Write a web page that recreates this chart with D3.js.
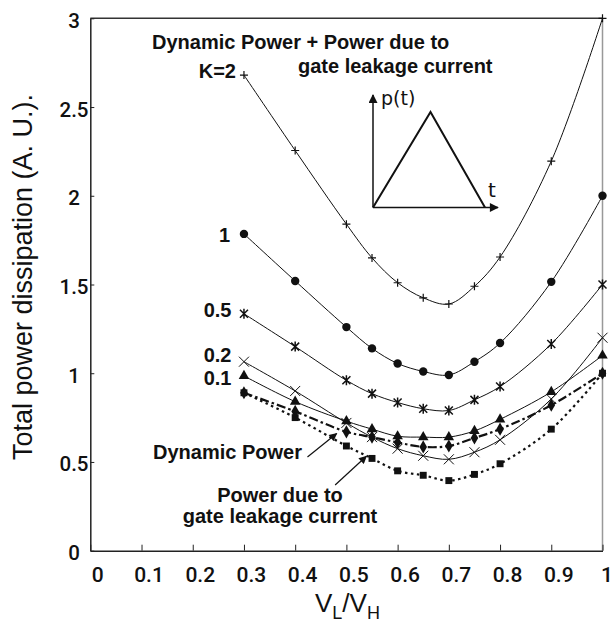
<!DOCTYPE html>
<html>
<head>
<meta charset="utf-8">
<script src="https://cdn.jsdelivr.net/npm/d3@7"></script>
<style>
  html, body { margin: 0; padding: 0; background: #fff; }
  svg { display: block; }
</style>
</head>
<body>
<svg id="chart" width="614" height="626"></svg>
<script>
// ---- data ----
const xValues = [0.3, 0.4, 0.5, 0.55, 0.6, 0.65, 0.7, 0.75, 0.8, 0.9, 1.0];
const k2      = [2.68, 2.255, 1.84, 1.65, 1.51, 1.425, 1.39, 1.49, 1.655, 2.195, 3.0];
const k1      = [1.785, 1.52, 1.26, 1.14, 1.055, 1.01, 0.99, 1.065, 1.17, 1.515, 2.0];
const k05     = [1.335, 1.15, 0.96, 0.885, 0.835, 0.80, 0.79, 0.85, 0.925, 1.165, 1.5];
const k02     = [1.065, 0.90, 0.72, 0.64, 0.575, 0.535, 0.515, 0.555, 0.625, 0.855, 1.2];
const k01     = [0.985, 0.84, 0.73, 0.685, 0.645, 0.64, 0.64, 0.675, 0.74, 0.895, 1.1];
const dynamicPower = [0.89, 0.785, 0.67, 0.64, 0.61, 0.585, 0.59, 0.635, 0.685, 0.82, 1.0];
const leakagePower = [0.89, 0.75, 0.59, 0.52, 0.45, 0.425, 0.395, 0.43, 0.49, 0.685, 1.0];

const xTicks = [0, 0.1, 0.2, 0.3, 0.4, 0.5, 0.6, 0.7, 0.8, 0.9, 1];
const xTickLabels = ["0", "0.1", "0.2", "0.3", "0.4", "0.5", "0.6", "0.7", "0.8", "0.9", "1"];
const yTicks = [0, 0.5, 1, 1.5, 2, 2.5, 3];
const yTickLabels = ["0", "0.5", "1", "1.5", "2", "2.5", "3"];

const kLabels = ["K=2", "1", "0.5", "0.2", "0.1"];

// ---- layout ----
const svg = d3.select("#chart");
const pLeft = 90.3, pRight = 602.5, pTop = 18.3, pBottom = 550.7;
const x = d3.scaleLinear().domain([0, 1]).range([pLeft, pRight]);
const y = d3.scaleLinear().domain([0, 3]).range([pBottom, pTop]);

const tickFont = "Roboto, 'DejaVu Sans Condensed', sans-serif";
const boldFont = "'Liberation Sans', Arial, sans-serif";

// frame: top dark, right grey
svg.append("line").attr("x1", pLeft).attr("x2", pRight).attr("y1", pTop).attr("y2", pTop)
  .attr("stroke", "#333").attr("stroke-width", 1.5);
svg.append("line").attr("x1", pRight).attr("x2", pRight).attr("y1", pTop).attr("y2", pBottom)
  .attr("stroke", "#999").attr("stroke-width", 1.5);

// axes
const xAxis = d3.axisBottom(x).tickValues(xTicks).tickSizeInner(-6).tickSizeOuter(0).tickFormat("");
const gx = svg.append("g").attr("transform", `translate(0,${pBottom})`).call(xAxis);
gx.select(".domain").attr("stroke", "#222").attr("stroke-width", 1.5);
gx.selectAll(".tick line").attr("stroke", "#222");
const yAxis = d3.axisLeft(y).tickValues(yTicks).tickSizeInner(-4).tickSizeOuter(0).tickFormat("");
const gy = svg.append("g").attr("transform", `translate(${pLeft},0)`).call(yAxis);
gy.select(".domain").attr("stroke", "#222").attr("stroke-width", 1.5);
gy.selectAll(".tick line").attr("stroke", "#222");

// tick labels
svg.append("g").selectAll("text").data(xTicks).join("text")
  .attr("x", d => Math.min(x(d) + 7.5, 607)).attr("y", 582)
  .attr("text-anchor", "middle")
  .attr("font-family", tickFont).attr("font-weight", 500).attr("font-size", 21).attr("fill", "#111")
  .text((d, i) => xTickLabels[i]);
svg.append("g").selectAll("text").data(yTicks).join("text")
  .attr("x", 74).attr("y", d => y(d) + 9.5)
  .attr("text-anchor", "middle")
  .attr("font-family", tickFont).attr("font-weight", 500).attr("font-size", 20.5).attr("fill", "#111")
  .text((d, i) => yTickLabels[i]);

// axis titles
svg.append("text")
  .attr("transform", "translate(32,277) rotate(-90)")
  .attr("text-anchor", "middle")
  .attr("font-family", boldFont).attr("font-size", 27).attr("fill", "#111")
  .text("Total power dissipation (A. U.).");
const xt = svg.append("text").attr("x", 315).attr("y", 612)
  .attr("font-family", boldFont).attr("font-size", 26).attr("fill", "#111");
xt.append("tspan").text("V");
xt.append("tspan").attr("font-size", 18).attr("dy", 7).text("L");
xt.append("tspan").attr("dy", -7).text("/V");
xt.append("tspan").attr("font-size", 18).attr("dy", 7).text("H");

// lines
const line = d3.line().x((d, i) => x(xValues[i])).y(d => y(d)).curve(d3.curveCatmullRom.alpha(0.5));
const seriesDefs = [
  { data: leakagePower, dash: "2.5,3.5", width: 2.2 },
  { data: dynamicPower, dash: "9,3,2.5,3", width: 2.2 },
  { data: k01, dash: null, width: 1 },
  { data: k02, dash: null, width: 1 },
  { data: k05, dash: null, width: 1 },
  { data: k1, dash: null, width: 1 },
  { data: k2, dash: null, width: 1 }
];
svg.append("g").selectAll("path").data(seriesDefs).join("path")
  .attr("d", d => line(d.data))
  .attr("fill", "none").attr("stroke", "#111")
  .attr("stroke-width", d => d.width)
  .attr("stroke-dasharray", d => d.dash);

// markers
function pts(arr) { return arr.map((v, i) => [x(xValues[i]), y(v)]); }
const mk = svg.append("g");
// K=2 plus
mk.append("g").selectAll("path").data(pts(k2)).join("path")
  .attr("d", d => `M${d[0]-4},${d[1]}H${d[0]+4}M${d[0]},${d[1]-4}V${d[1]+4}`)
  .attr("stroke", "#111").attr("stroke-width", 1.2).attr("fill", "none");
// K=1 circle
mk.append("g").selectAll("circle").data(pts(k1)).join("circle")
  .attr("cx", d => d[0]).attr("cy", d => d[1]).attr("r", 4.2).attr("fill", "#111");
// K=0.5 asterisk
mk.append("g").selectAll("path").data(pts(k05)).join("path")
  .attr("d", d => `M${d[0]-4},${d[1]-4}L${d[0]+4},${d[1]+4}M${d[0]-4},${d[1]+4}L${d[0]+4},${d[1]-4}M${d[0]},${d[1]-5}V${d[1]+5}`)
  .attr("stroke", "#111").attr("stroke-width", 1.5).attr("fill", "none");
// K=0.2 x
mk.append("g").selectAll("path").data(pts(k02)).join("path")
  .attr("d", d => `M${d[0]-5},${d[1]-5}L${d[0]+5},${d[1]+5}M${d[0]-5},${d[1]+5}L${d[0]+5},${d[1]-5}`)
  .attr("stroke", "#111").attr("stroke-width", 1).attr("fill", "none");
// leakage squares
mk.append("g").selectAll("path").data(pts(leakagePower)).join("path")
  .attr("transform", d => `translate(${d[0]},${d[1]})`)
  .attr("d", d3.symbol(d3.symbolSquare, 48)).attr("fill", "#111");
// dynamic diamonds
mk.append("g").selectAll("path").data(pts(dynamicPower)).join("path")
  .attr("transform", d => `translate(${d[0]},${d[1]})`)
  .attr("d", d3.symbol(d3.symbolDiamond, 50)).attr("fill", "#111");
// K=0.1 triangles
mk.append("g").selectAll("path").data(pts(k01)).join("path")
  .attr("transform", d => `translate(${d[0]},${d[1]})`)
  .attr("d", d3.symbol(d3.symbolTriangle, 48)).attr("fill", "#111");

// K labels
const kLabelPos = [[236, 78], [230, 241.5], [231.5, 317], [231.5, 362], [231.5, 385]];
svg.append("g").selectAll("text").data(kLabels).join("text")
  .attr("x", (d, i) => kLabelPos[i][0]).attr("y", (d, i) => kLabelPos[i][1])
  .attr("text-anchor", "end")
  .attr("font-family", boldFont).attr("font-weight", "bold").attr("font-size", 20).attr("fill", "#111")
  .text(d => d);

// annotations
const ann = svg.append("g").attr("font-family", boldFont).attr("font-weight", "bold")
  .attr("font-size", 20).attr("fill", "#111");
ann.append("text").attr("x", 152).attr("y", 49).text("Dynamic Power + Power due to");
ann.append("text").attr("x", 298).attr("y", 73).text("gate leakage current");
ann.append("text").attr("x", 302).attr("y", 459).attr("text-anchor", "end").text("Dynamic Power");
ann.append("text").attr("x", 280).attr("y", 501.5).attr("text-anchor", "middle").text("Power due to");
ann.append("text").attr("x", 280).attr("y", 523).attr("text-anchor", "middle").text("gate leakage current");

const defs = svg.append("defs");
defs.append("marker").attr("id", "ah").attr("viewBox", "0 0 10 10")
  .attr("refX", 9).attr("refY", 5).attr("markerWidth", 10).attr("markerHeight", 8)
  .attr("markerUnits", "userSpaceOnUse").attr("orient", "auto")
  .append("path").attr("d", "M0,0L10,5L0,10Z").attr("fill", "#111");

const arrows = [
  [[0.424, 0.528], [0.481, 0.66]],
  [[0.478, 0.37], [0.539, 0.532]]
];
svg.append("g").selectAll("line").data(arrows).join("line")
  .attr("x1", d => x(d[0][0])).attr("y1", d => y(d[0][1]))
  .attr("x2", d => x(d[1][0])).attr("y2", d => y(d[1][1]))
  .attr("stroke", "#111").attr("stroke-width", 1.2).attr("marker-end", "url(#ah)");

// inset: triangular p(t)
const inset = svg.append("g");
defs.append("marker").attr("id", "ah2").attr("viewBox", "0 0 10 10")
  .attr("refX", 9).attr("refY", 5).attr("markerWidth", 11).attr("markerHeight", 9)
  .attr("markerUnits", "userSpaceOnUse").attr("orient", "auto")
  .append("path").attr("d", "M0,0L10,5L0,10Z").attr("fill", "#111");
inset.append("line").attr("x1", 373).attr("y1", 207.5).attr("x2", 373).attr("y2", 95)
  .attr("stroke", "#111").attr("stroke-width", 1.5).attr("marker-end", "url(#ah2)");
inset.append("line").attr("x1", 373).attr("y1", 207.5).attr("x2", 498).attr("y2", 207.5)
  .attr("stroke", "#111").attr("stroke-width", 1.5).attr("marker-end", "url(#ah2)");
inset.append("path").attr("d", "M373,207.5L430.5,112L485,207.5")
  .attr("fill", "none").attr("stroke", "#111").attr("stroke-width", 2);
inset.append("text").attr("x", 381).attr("y", 105)
  .attr("font-family", "'DejaVu Sans', sans-serif").attr("font-size", 19).attr("fill", "#111").text("p(t)");
inset.append("text").attr("x", 488).attr("y", 197)
  .attr("font-family", "'DejaVu Sans', sans-serif").attr("font-size", 20).attr("fill", "#111").text("t");
</script>
</body>
</html>
